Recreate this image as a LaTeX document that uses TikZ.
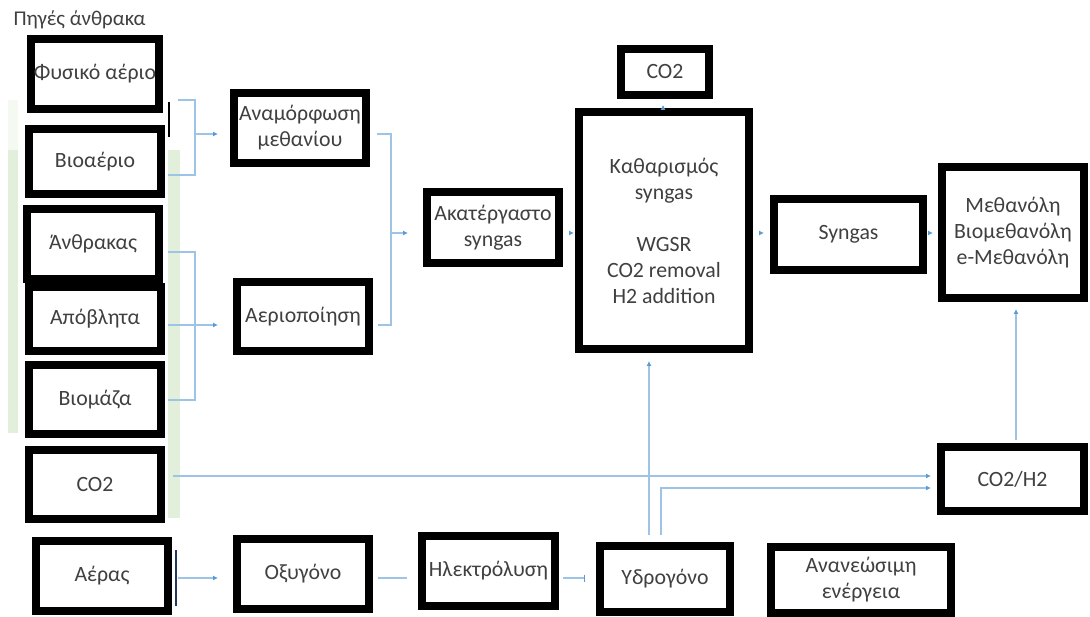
\documentclass[tikz,border=0pt]{standalone}
\usepackage{fontspec}
\setmainfont{Carlito}
\usetikzlibrary{arrows.meta,calc}
\definecolor{txt}{HTML}{404040}
\definecolor{ln}{HTML}{9DC3E6}
\definecolor{ah}{HTML}{5B9BD5}
\definecolor{grn}{HTML}{E2EFDA}
\definecolor{grnl}{HTML}{F4F9F1}
\definecolor{dblue}{HTML}{203864}
\tikzset{
  box/.style={draw=black, line width=8pt, fill=white, inner sep=0pt, text=txt, align=center,
    font=\fontsize{21.8}{26}\selectfont},
  conn/.style={draw=ln, line width=1.2pt},
  arr/.style={conn, -{Latex[length=5pt,width=5pt,fill=ah,color=ah]}},
  barend/.style={conn, -{Bar[width=7pt,color=ah]}},
}
\begin{document}
\begin{tikzpicture}[x=1pt,y=-1pt]
\useasboundingbox (0,0) rectangle (1090,617);
% green strips
\fill[grnl] (8,100) rectangle (18,150);
\fill[grn] (8,150) rectangle (18,433);
\fill[grn] (168,150) rectangle (180,518);
% title
\node[anchor=west, text=txt, font=\fontsize{21}{25}\selectfont] (title) at (10,20) {Πηγές άνθρακα};
% boxes
\node[box, minimum width=128pt, minimum height=70pt] (fa) at (95,74) {Φυσικό αέριο};
\node[box, minimum width=132pt, minimum height=65pt] (bio) at (95,161.5) {Βιοαέριο};
\node[box, minimum width=132pt, minimum height=70pt] (anth) at (93,244) {Άνθρακας};
\node[box, minimum width=132pt, minimum height=64pt] (apo) at (95,319) {Απόβλητα};
\node[box, minimum width=132pt, minimum height=69pt] (biom) at (95,399.5) {Βιομάζα};
\node[box, minimum width=132pt, minimum height=69pt] (co2l) at (95,484.5) {CO2};
\node[box, minimum width=132pt, minimum height=70pt] (aer) at (102,576) {Αέρας};
\node[box, minimum width=132pt, minimum height=70pt] (anam) at (300,128) {Αναμόρφωση\\μεθανίου};
\node[box, minimum width=132pt, minimum height=69pt] (aeri) at (303,316.5) {Αεριοποίηση};
\node[box, minimum width=132pt, minimum height=71pt] (akat) at (493,227.5) {Ακατέργαστο\\syngas};
\node[box, minimum width=170pt, minimum height=237pt] (kath) at (664,230.5) {Καθαρισμός\\syngas\\[26pt]WGSR\\CO2 removal\\H2 addition};
\node[box, minimum width=88pt, minimum height=46pt] (co2t) at (665,72) {CO2};
\node[box, minimum width=149pt, minimum height=71pt] (syn) at (848.5,234.5) {Syngas};
\node[box, minimum width=142pt, minimum height=131pt] (meth) at (1013,232.5) {Μεθανόλη\\Βιομεθανόλη\\e-Μεθανόλη};
\node[box, minimum width=143pt, minimum height=64pt] (co2h2) at (1012.5,479) {CO2/H2};
\node[box, minimum width=132pt, minimum height=70pt] (oxy) at (303,574) {Οξυγόνο};
\node[box, minimum width=133pt, minimum height=70pt] (ilek) at (488.5,571) {Ηλεκτρόλυση};
\node[box, minimum width=130pt, minimum height=66pt] (ydro) at (665,579) {Υδρογόνο};
\node[box, minimum width=180pt, minimum height=66pt] (anan) at (861,580) {Ανανεώσιμη\\ενέργεια};
% small marks
\draw[black, line width=2pt] (169,102) -- (169,137);
\draw[dblue, line width=2.5pt] (176,550) -- (176,606);
% helper coordinates
\coordinate (b1t) at (178,100);
\coordinate (b1b) at (168,175);
\coordinate (b1m) at (195,134);
\coordinate (b2t) at (168,252);
\coordinate (b2b) at (168,400);
\coordinate (b2s) at (168,325);
\coordinate (b2m) at (195,325);
\coordinate (b3t) at (377,134);
\coordinate (b3b) at (378,325);
\coordinate (b3m) at (391,233);
\coordinate (yl) at (0,233);
\coordinate (h1) at (649,535);
\coordinate (h2) at (661,535);
\coordinate (y488) at (0,488);
\coordinate (c1) at (173,476);
\coordinate (v1) at (1016,440);
\coordinate (a1) at (178,578);
\coordinate (o1) at (378,578);
\coordinate (o2) at (407,578);
\coordinate (e1) at (563,578);
\coordinate (e2) at (585,578);
% bracket 1
\draw[conn] (b1t) -| (b1m) |- (b1b);
\draw[arr] (b1m) -- ($(b1m -| anam.west)+(-12,0)$);
% bracket 2
\draw[conn] (b2t) -| (b2m) |- (b2b);
\draw[arr] (b2s) -- ($(b2m -| aeri.west)+(-15,0)$);
% bracket 3
\draw[conn] (b3t) -| (b3m) |- (b3b);
\draw[arr] (b3m) -- ($(b3m -| akat.west)+(-15,0)$);
% main line
\draw[arr] ($(akat.east |- yl)+(6,0)$) -- ($(kath.west |- yl)+(-1,0)$);
\draw[arr] ($(kath.east |- yl)+(6,0)$) -- ($(syn.west |- yl)+(-6,0)$);
\draw[arr] ($(syn.east |- yl)+(4,0)$) -- ($(meth.west |- yl)+(-5,0)$);
\draw[arr] ($(kath.north -| co2t)+(-2,-2)$) -- ($(co2t.south)+(-2,6)$);
% hydrogen / co2
\draw[arr] (h1) -- ($(h1 |- kath.south)+(0,8)$);
\draw[arr] (h2) |- ($(co2h2.west |- y488)+(-6,0)$);
\draw[arr] (c1) -- ($(co2h2.west |- c1)+(-6,0)$);
\draw[arr] (v1) -- ($(v1 |- meth.south)+(0,7)$);
% bottom row
\draw[arr] (a1) -- ($(a1 -| oxy.west)+(-15,0)$);
\draw[conn] (o1) -- (o2);
\draw[barend] (e1) -- (e2);
\end{tikzpicture}
\end{document}
